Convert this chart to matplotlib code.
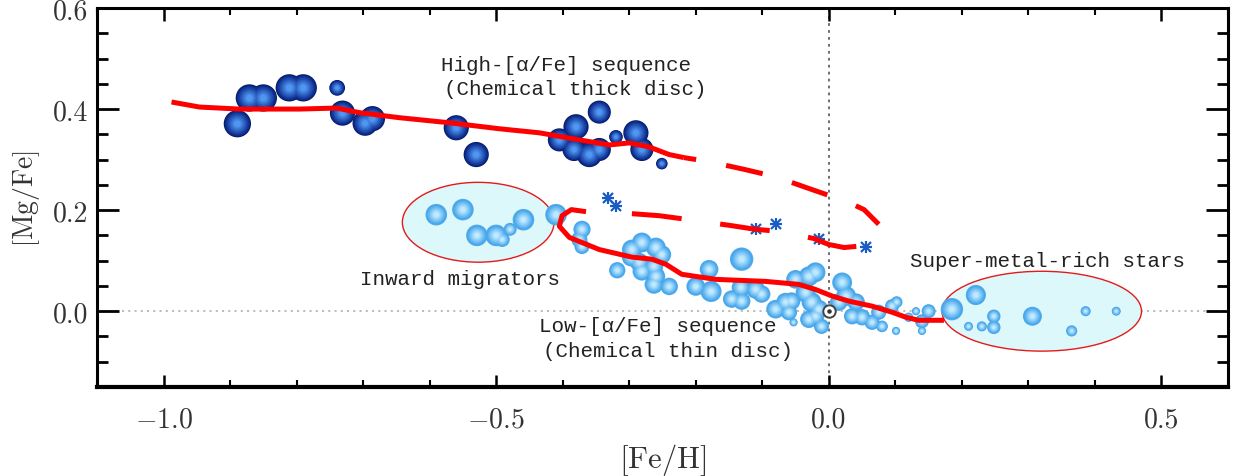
import numpy as np
import matplotlib
matplotlib.use("Agg")
import matplotlib.pyplot as plt
from matplotlib.patches import Ellipse
from matplotlib.ticker import MultipleLocator, FuncFormatter
from matplotlib.colors import to_rgb

plt.rcParams['font.family'] = ['cmr10', 'DejaVu Serif']
plt.rcParams['mathtext.fontset'] = 'cm'
plt.rcParams['axes.formatter.use_mathtext'] = True
plt.rcParams['lines.scale_dashes'] = False

# ---------------- data ----------------
# High-[alpha/Fe] sequence (thick disc): [Fe/H], [Mg/Fe], bubble size
thick_feh = [-0.889, -0.871, -0.850, -0.811, -0.790, -0.739, -0.731, -0.697, -0.686,
             -0.560, -0.530, -0.405, -0.380, -0.345, -0.383, -0.360, -0.345, -0.320,
             -0.290, -0.281, -0.251]
thick_mgfe = [0.371, 0.422, 0.422, 0.442, 0.442, 0.442, 0.392, 0.372, 0.381,
              0.363, 0.310, 0.339, 0.365, 0.394, 0.320, 0.310, 0.320, 0.345,
              0.353, 0.320, 0.292]
thick_size = [26, 26, 26, 26, 26, 15, 24, 24, 24,
              24, 24, 22, 24, 22, 22, 24, 22, 13,
              24, 22, 11]

# Inward migrators + stars next to them
migr_feh = [-0.590, -0.550, -0.529, -0.500, -0.491, -0.479, -0.459,
            -0.410, -0.371, -0.375, -0.371]
migr_mgfe = [0.191, 0.201, 0.150, 0.150, 0.142, 0.162, 0.181,
             0.191, 0.162, 0.142, 0.128]
migr_size = [20, 20, 20, 20, 14, 12, 20,
             20, 16, 15, 14]

# Low-[alpha/Fe] sequence (thin disc)
thin_feh = [-0.318, -0.296, -0.281, -0.260, -0.251, -0.297, -0.285, -0.263, -0.281,
            -0.260, -0.263, -0.240, -0.180, -0.200, -0.177, -0.131, -0.132, -0.110,
            -0.101, -0.146, -0.131, -0.080, -0.065, -0.056, -0.060, -0.050, -0.030,
            -0.020, -0.035, -0.026, -0.015, -0.020, -0.030, -0.011, 0.020, 0.026,
            0.015, 0.041, 0.050, 0.035, 0.065, 0.075, 0.095, 0.102, 0.080,
            0.101, 0.120, 0.140, 0.150, 0.140, 0.131, -0.053]
thin_mgfe = [0.081, 0.122, 0.136, 0.126, 0.112, 0.107, 0.097, 0.089, 0.079,
             0.069, 0.053, 0.049, 0.083, 0.049, 0.039, 0.103, 0.047, 0.043,
             0.034, 0.024, 0.020, 0.004, 0.018, 0.020, -0.002, 0.063, 0.069,
             0.077, 0.037, 0.018, 0.004, -0.010, -0.016, -0.030, 0.057, 0.030,
             0.018, 0.018, -0.012, -0.010, -0.022, -0.002, 0.010, 0.018, -0.030,
             -0.039, -0.012, -0.020, 0.000, -0.039, 0.000, -0.022]
thin_size = [14, 17, 17, 17, 16, 16, 16, 16, 16,
             16, 16, 15, 16, 16, 18, 20, 16, 16,
             15, 15, 15, 16, 16, 15, 14, 16, 17,
             17, 17, 17, 16, 15, 15, 13, 17, 17,
             15, 15, 14, 14, 13, 13, 12, 10, 10,
             7, 8, 12, 12, 7, 7, 7]

# Super-metal-rich stars
smr_feh = [0.185, 0.221, 0.210, 0.230, 0.248, 0.248, 0.306, 0.386, 0.365, 0.432]
smr_mgfe = [0.004, 0.032, -0.030, -0.030, -0.010, -0.032, -0.010, 0.000, -0.039, 0.000]
smr_size = [20, 18, 8, 9, 12, 12, 17, 9, 10, 8]

# Asterisk points
ast_feh = [-0.332, -0.320, -0.110, -0.080, -0.015, 0.056]
ast_mgfe = [0.225, 0.209, 0.162, 0.172, 0.142, 0.128]

# Trend curves
thick_trend_feh = [-0.988, -0.946, -0.886, -0.796, -0.740, -0.706, -0.646, -0.571,
                   -0.495, -0.435, -0.375, -0.330, -0.300, -0.270, -0.240, -0.218]
thick_trend_mgfe = [0.414, 0.404, 0.400, 0.400, 0.402, 0.393, 0.383, 0.373,
                    0.361, 0.353, 0.339, 0.329, 0.333, 0.325, 0.310, 0.304]
thick_ext_feh = [-0.218, -0.180, -0.125, -0.080, -0.026, 0.027, 0.053, 0.075]
thick_ext_mgfe = [0.304, 0.296, 0.280, 0.266, 0.241, 0.217, 0.201, 0.172]

thin_trend_feh = [-0.365, -0.387, -0.401, -0.405, -0.390, -0.345, -0.296, -0.266,
                  -0.245, -0.221, -0.170, -0.095, -0.045, -0.020, 0.005, 0.030,
                  0.065, 0.095, 0.116, 0.135, 0.173]
thin_trend_mgfe = [0.197, 0.201, 0.189, 0.168, 0.146, 0.122, 0.107, 0.103,
                   0.093, 0.073, 0.063, 0.059, 0.053, 0.043, 0.030, 0.020,
                   0.010, -0.002, -0.012, -0.018, -0.018]
star_trend_feh = [-0.296, -0.255, -0.221, -0.150, -0.110, -0.075, -0.023, 0.000, 0.023, 0.056]
star_trend_mgfe = [0.193, 0.189, 0.183, 0.170, 0.162, 0.158, 0.144, 0.132, 0.126, 0.130]

# Ellipses (center x, center y, width, height)
migr_ellipse = (-0.527, 0.176, 0.228, 0.158)
smr_ellipse = (0.320, 0.000, 0.300, 0.158)

# ---------------- figure ----------------
W, H = 1237, 477
fig = plt.figure(figsize=(W / 100, H / 100), dpi=100)
ax = fig.add_axes([97 / W, 1 - 388 / H, (1228 - 97) / W, (388 - 9) / H])
ax.set_xlim(-1.1, 0.6)
ax.set_ylim(-0.15, 0.6)

# reference lines
ax.axhline(0, color='#b0b0b0', lw=1.2, ls=(0, (1.5, 3)), zorder=1)
ax.axvline(0, color='#555555', lw=1.2, ls=(0, (2, 3)), zorder=1)

# ellipses
for (cx, cy, ew, eh) in (migr_ellipse, smr_ellipse):
    ax.add_patch(Ellipse((cx, cy), ew, eh, facecolor='#dcf8fb', edgecolor='#e41a1a',
                         lw=1.0, zorder=2))


def spheres(x, y, d, outer, inner, edge, z, scale):
    d = np.asarray(d, float) * scale
    s = (d * 0.72) ** 2
    ax.scatter(x, y, s=s, c=[edge], edgecolors='none', zorder=z)
    n = 7
    c0, c1 = np.array(to_rgb(outer)), np.array(to_rgb(inner))
    for k in range(n):
        f = 0.93 - 0.8 * k / n
        col = c0 + (c1 - c0) * (k / (n - 1))
        ax.scatter(x, y, s=s * f ** 2, c=[col], edgecolors='none', zorder=z + 0.01 * (k + 1))


light = ('#45a6ec', '#bfe9ff', '#5aaeea')
spheres(thin_feh, thin_mgfe, thin_size, *light, 3, 1.17)
spheres(smr_feh, smr_mgfe, smr_size, *light, 3, 1.12)
spheres(migr_feh, migr_mgfe, migr_size, *light, 3, 1.08)
spheres(thick_feh, thick_mgfe, thick_size, '#0b2a8c', '#4f96f2', '#071c60', 4, 1.05)

# Sun symbol
ax.scatter([0], [0], s=80, facecolors='white', edgecolors='#444444', linewidths=1.4, zorder=6)
ax.scatter([0], [0], s=5, c='#333333', zorder=6.1)

# asterisks (8-armed)
for mk in ('+', 'x'):
    ax.plot(ast_feh, ast_mgfe, ls='none', marker=mk, ms=9 if mk == '+' else 7.5, mew=1.6,
            color='#1a5cc4', zorder=6)

# trend curves
red = '#ff0000'
ax.plot(thick_trend_feh, thick_trend_mgfe, color=red, lw=3.6, solid_capstyle='butt', zorder=7)
ax.plot(thick_ext_feh, thick_ext_mgfe, color=red, lw=3.6, ls=(18, (27, 22)),
        dash_capstyle='butt', zorder=7)
ax.plot(thin_trend_feh, thin_trend_mgfe, color=red, lw=3.6, solid_capstyle='butt', zorder=7)
ax.plot(star_trend_feh, star_trend_mgfe, color=red, lw=3.6, ls=(0, (36, 28)),
        dash_capstyle='butt', zorder=7)

# annotations
mono = dict(family=['Liberation Mono', 'DejaVu Sans Mono'], fontsize=15, color='#222222',
            zorder=8)
ax.text(-0.583, 0.489, 'High-[α/Fe] sequence', ha='left', va='center', **mono)
ax.text(-0.578, 0.440, '(Chemical thick disc)', ha='left', va='center', **mono)
ax.text(-0.704, 0.065, 'Inward migrators', ha='left', va='center', **mono)
ax.text(-0.435, -0.028, 'Low-[α/Fe] sequence', ha='left', va='center', **mono)
ax.text(-0.429, -0.077, '(Chemical thin disc)', ha='left', va='center', **mono)
ax.text(0.122, 0.100, 'Super-metal-rich stars', ha='left', va='center', **mono)

# axes styling
fmt = FuncFormatter(lambda v, p: ('$-$' if v < -1e-9 else '') + f'{abs(v):.1f}')
ax.xaxis.set_major_locator(MultipleLocator(0.5))
ax.xaxis.set_minor_locator(MultipleLocator(0.1))
ax.yaxis.set_major_locator(MultipleLocator(0.2))
ax.yaxis.set_minor_locator(MultipleLocator(0.05))
ax.xaxis.set_major_formatter(fmt)
ax.yaxis.set_major_formatter(fmt)

ax.tick_params(axis='both', which='both', direction='in', top=True, right=True, colors='black')
ax.tick_params(axis='y', which='major', length=16, width=2, labelsize=20, pad=6)
ax.tick_params(axis='y', which='minor', length=8, width=2)
ax.tick_params(axis='x', which='major', length=9, width=1.8, labelsize=20, pad=14)
ax.tick_params(axis='x', which='minor', length=5, width=1.5)
for t in ax.get_xticklabels() + ax.get_yticklabels():
    t.set_color('#333333')

for side in ['left', 'right', 'top']:
    ax.spines[side].set_linewidth(2.2)
ax.spines['bottom'].set_linewidth(3)

ax.set_xlabel(r'$\left[\mathrm{Fe/H}\right]$', fontsize=22, color='#333333', labelpad=6)
ax.set_ylabel(r'$\left[\mathrm{Mg/Fe}\right]$', fontsize=20, color='#333333', labelpad=8)

fig.savefig('out.png', dpi=100)
